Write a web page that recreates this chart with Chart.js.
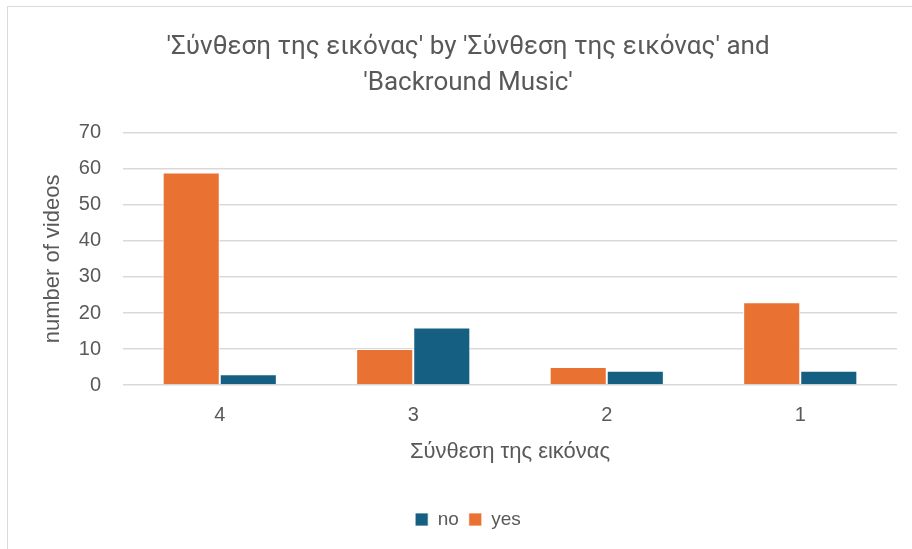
<!DOCTYPE html>
<html>
<head>
<meta charset="utf-8">
<script src="https://cdn.jsdelivr.net/npm/chart.js@4"></script>
<style>
  html, body { margin: 0; padding: 0; background: #fff; overflow: hidden; }
  #frame {
    position: absolute; left: 7px; top: 6px;
    width: 920px; height: 560px;
    border: 1px solid #d9d9d9; box-sizing: border-box;
  }
  canvas { position: absolute; left: 0; top: 0; }
</style>
</head>
<body>
<div id="frame"></div>
<canvas id="chart" width="912" height="549"></canvas>
<script>
// Categories and counts per group
const categories = ['4', '3', '2', '1'];
const yesCounts = [59, 10, 5, 23];
const noCounts = [3, 16, 4, 4];
const yTicks = [0, 10, 20, 30, 40, 50, 60, 70];

const textColor = '#595959';
const titleFont = 'Roboto, "Open Sans", sans-serif';
const axisFont = '"Liberation Sans", Arial, sans-serif';

document.addEventListener('DOMContentLoaded', function() {
    const ctx = document.getElementById('chart').getContext('2d');
    new Chart(ctx, {
        type: 'bar',
        data: {
            labels: categories,
            datasets: [{
                label: 'yes',
                data: yesCounts,
                backgroundColor: '#e97132',
                borderColor: '#ffffff',
                borderWidth: { top: 1, left: 1, right: 1, bottom: 0 },
                barPercentage: 1,
                categoryPercentage: 0.59
            }, {
                label: 'no',
                data: noCounts,
                backgroundColor: '#156082',
                borderColor: '#ffffff',
                borderWidth: { top: 1, left: 1, right: 1, bottom: 0 },
                barPercentage: 1,
                categoryPercentage: 0.59
            }]
        },
        options: {
            responsive: false,
            animation: false,
            layout: { padding: { left: 39, right: 15, top: 30, bottom: 10 } },
            plugins: {
                title: {
                    display: true,
                    text: ["'Σύνθεση της εικόνας' by 'Σύνθεση της εικόνας' and", "'Backround Music'"],
                    color: textColor,
                    font: { family: titleFont, size: 26, weight: 'normal', lineHeight: 1.38 },
                    padding: { top: 0, bottom: 31 }
                },
                legend: {
                    position: 'bottom',
                    reverse: true,
                    labels: {
                        color: textColor,
                        font: { family: axisFont, size: 19 },
                        boxWidth: 13,
                        boxHeight: 13,
                        padding: 10
                    }
                },
                tooltip: { enabled: false }
            },
            scales: {
                x: {
                    grid: { display: false, drawTicks: false },
                    border: { display: false },
                    ticks: { color: textColor, font: { family: axisFont, size: 20 }, padding: 18 },
                    title: {
                        display: true,
                        text: 'Σύνθεση της εικόνας',
                        color: textColor,
                        font: { family: axisFont, size: 22 },
                        padding: { top: -6, bottom: 34.5 }
                    }
                },
                y: {
                    min: 0,
                    max: 70,
                    afterBuildTicks: function(axis) {
                        axis.ticks = yTicks.map(v => ({ value: v }));
                    },
                    afterFit: function(axis) {
                        axis.width = 84;
                    },
                    grid: { color: '#d9d9d9', lineWidth: 1.5, drawTicks: false },
                    border: { display: false },
                    ticks: { color: textColor, font: { family: axisFont, size: 20 }, padding: 22 },
                    title: {
                        display: true,
                        text: 'number of videos',
                        color: textColor,
                        font: { family: axisFont, size: 22 },
                        padding: { top: 1, bottom: 0 }
                    }
                }
            }
        }
    });
});
</script>
</body>
</html>
